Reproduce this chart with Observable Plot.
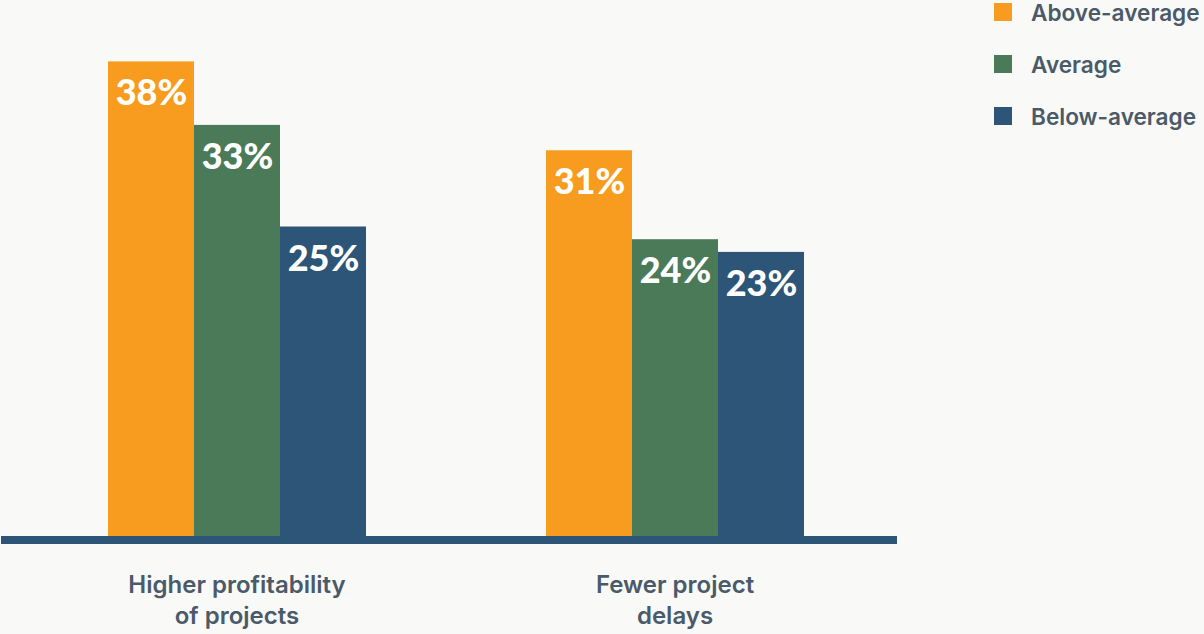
<!DOCTYPE html>
<html>
<head>
<meta charset="utf-8">
<script src="https://cdn.jsdelivr.net/npm/d3@7"></script>
<script src="https://cdn.jsdelivr.net/npm/@observablehq/plot@0.6"></script>
<style>
  html, body { margin: 0; padding: 0; background: #f9f9f7; }
  #wrap { position: relative; width: 1204px; height: 634px; overflow: hidden; font-family: Inter, "Open Sans", sans-serif; }
  #legend { position: absolute; left: 994px; top: -14px; }
  .row { display: flex; align-items: center; height: 52px; white-space: nowrap; }
  .sw { width: 18px; height: 18px; margin-right: 19px; flex: none; }
  .lab { font-size: 22.6px; font-weight: 600; color: #4b5a69; }
</style>
</head>
<body>
<div id="wrap"><div id="legend"></div></div>
<script>
const groups = ["Higher profitability of projects", "Fewer project delays"];
const groupLabels = ["Higher profitability\nof projects", "Fewer project\ndelays"];
const series = ["Above-average", "Average", "Below-average"];
const aboveAverage = [38, 31];
const average = [33, 24];
const belowAverage = [25, 23];
const colors = ["#f89c1f", "#4b7a59", "#2c5577"];

const valuesBySeries = [aboveAverage, average, belowAverage];
const data = [];
groups.forEach((g, gi) => {
  series.forEach((s, si) => data.push({group: g, series: s, value: valuesBySeries[si][gi]}));
});

const chart = Plot.plot({
  width: 1204,
  height: 634,
  marginLeft: 0,
  marginRight: 306,
  marginTop: 36,
  marginBottom: 90,
  style: {background: "transparent", fontFamily: "Inter, 'Open Sans', sans-serif"},
  fx: {domain: groups, paddingInner: 0.4077, paddingOuter: 0.2267, align: 0.533, axis: null, label: null},
  x: {domain: series, padding: 0, axis: null},
  y: {domain: [0, 40], axis: null},
  color: {domain: series, range: colors},
  marks: [
    Plot.barY(data, {fx: "group", x: "series", y: "value", fill: "series"}),
    Plot.ruleY([0], {stroke: "#2c5577", strokeWidth: 8, dy: -4.5, insetLeft: -106, insetRight: -93}),
    Plot.text(data, {
      fx: "group", x: "series", y: "value",
      text: d => d.value + "%",
      dy: 32, lineAnchor: "middle",
      fill: "white", fontSize: 36, fontWeight: 900,
      fontFamily: "Lato, sans-serif"
    }),
    Plot.text(groups, {
      fx: d => d,
      text: (d, i) => groupLabels[i],
      frameAnchor: "bottom",
      dy: 54, lineAnchor: "middle", lineHeight: 1.3,
      fill: "#4b5a69", fontSize: 24, fontWeight: 600
    })
  ]
});
document.getElementById("wrap").prepend(chart);

const legend = document.getElementById("legend");
series.forEach((s, i) => {
  const row = document.createElement("div");
  row.className = "row";
  const sw = document.createElement("div");
  sw.className = "sw";
  sw.style.background = colors[i];
  const lab = document.createElement("span");
  lab.className = "lab";
  lab.textContent = s;
  row.append(sw, lab);
  legend.append(row);
});
</script>
</body>
</html>
